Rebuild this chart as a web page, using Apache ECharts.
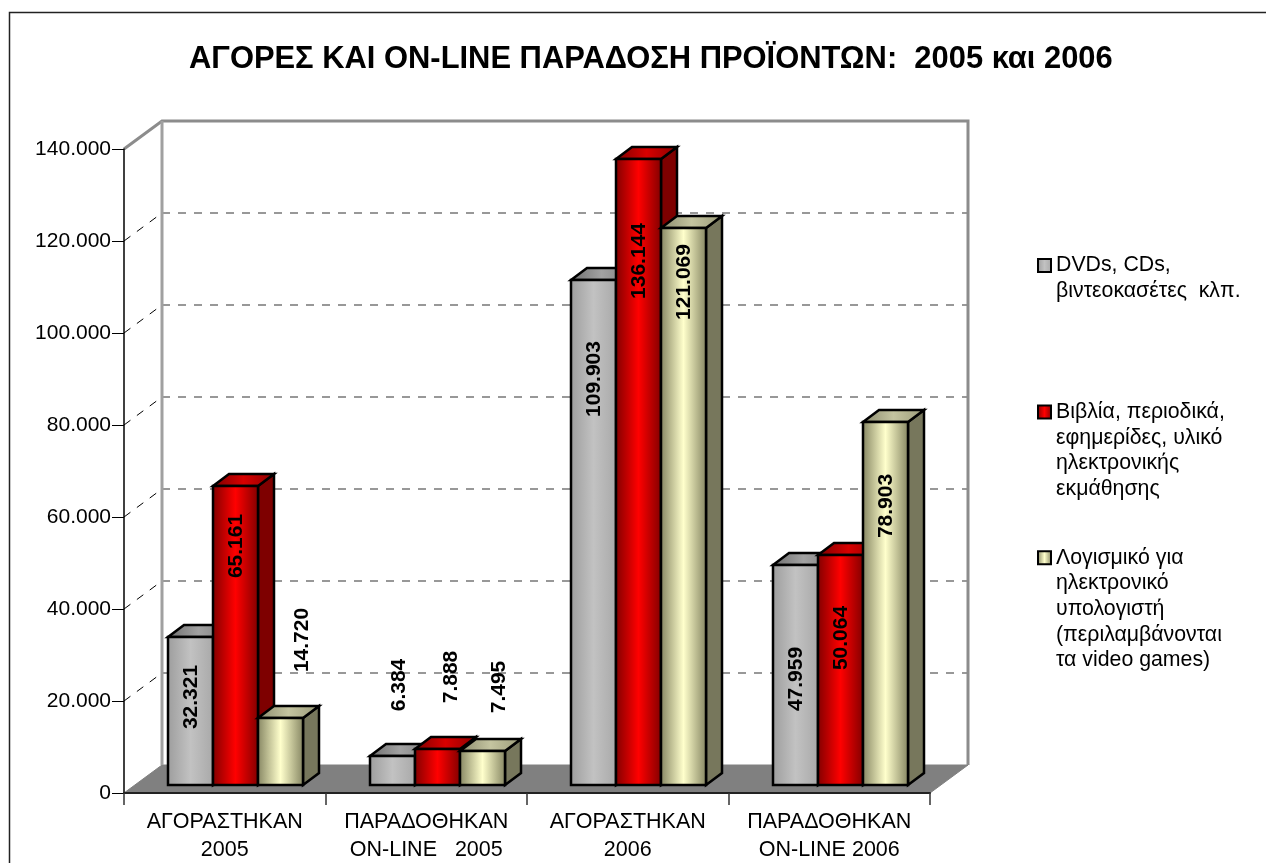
<!DOCTYPE html>
<html>
<head>
<meta charset="utf-8">
<title>chart</title>
<style>
html, body { margin: 0; padding: 0; background: #fff; }
#chart { width: 1266px; height: 863px; }
</style>
<script src="https://cdn.jsdelivr.net/npm/echarts@6/dist/echarts.min.js"></script>
</head>
<body>
<div id="chart"></div>
<script>
// data
var categories = ['ΑΓΟΡΑΣΤΗΚΑΝ\n2005', 'ΠΑΡΑΔΟΘΗΚΑΝ\nON-LINE   2005', 'ΑΓΟΡΑΣΤΗΚΑΝ\n2006', 'ΠΑΡΑΔΟΘΗΚΑΝ\nON-LINE 2006'];
var seriesNames = ['DVDs, CDs,\nβιντεοκασέτες  κλπ.', 'Βιβλία, περιοδικά,\nεφημερίδες, υλικό\nηλεκτρονικής\nεκμάθησης', 'Λογισμικό για\nηλεκτρονικό\nυπολογιστή\n(περιλαμβάνονται\nτα video games)'];
var dvdValues = [32321, 6384, 109903, 47959];
var bookValues = [65161, 7888, 136144, 50064];
var softValues = [14720, 7495, 121069, 78903];
var axisTicks = [0, 20000, 40000, 60000, 80000, 100000, 120000, 140000];

// 3D look
var depthX = 38, depthY = 28;      // side wall / floor
var barDepthX = 16, barDepthY = 12;
var barShiftX = 11, barShiftY = 7.6; // bars stand inside the floor
var barRatio = 45 / 201.25;

// label position relative to the bar top, px (by series, by category)
var labelDx = [[1, 7, 1, 1], [1, 14, 1, 1], [22, 17, 1, 1]];
var labelDy = [[60, -71, 99, 114], [60, -72, 102, 83], [-78, -64, 54, 84]];

var faces = [
    { front: ['#9c9c9c', '#c2c2c2', '#a8a8a8'], top: ['#6e6e6e', '#a2a2a2', '#7e7e7e'], side: '#6a6a6a' },
    { front: ['#7e0000', '#ff0000', '#7e0000'], top: ['#7a0000', '#d80000', '#8a0000'], side: '#7e0000' },
    { front: ['#82825f', '#ffffcc', '#82825f'], top: ['#8a8a6c', '#c4c4a0', '#9a9a78'], side: '#77775c' }
];

function grad(c) {
    return new echarts.graphic.LinearGradient(0, 0, 1, 0, [
        { offset: 0, color: c[0] },
        { offset: 0.5, color: c[1] },
        { offset: 1, color: c[2] }
    ]);
}

function fmt(v) {
    return String(v).replace(/\B(?=(\d{3})+$)/g, '.');
}

function renderWall(params, api) {
    var cs = params.coordSys;
    var y = api.coord([0, api.value(0)])[1];
    var l = cs.x, r = cs.x + cs.width;
    var children = [];
    if (params.dataIndex === 0) {
        // floor
        children.push({
            type: 'polygon',
            shape: { points: [[l, y], [l + depthX, y - depthY], [r + depthX, y - depthY], [r, y]] },
            style: { fill: '#808080', stroke: '#808080', lineWidth: 1 }
        });
    }
    if (api.value(0) === axisTicks[axisTicks.length - 1]) {
        // wall outline
        var b = cs.y + cs.height - depthY;
        children.push({
            type: 'polyline',
            shape: { points: [[l, y], [l + depthX, y - depthY], [r + depthX, y - depthY], [r + depthX, b]] },
            style: { fill: 'none', stroke: '#8c8c8c', lineWidth: 3 }
        });
        children.push({
            type: 'line',
            shape: { x1: l + depthX, y1: y - depthY, x2: l + depthX, y2: b },
            style: { stroke: '#a0a0a0', lineWidth: 3 }
        });
    } else if (params.dataIndex > 0) {
        children.push({
            type: 'line',
            shape: { x1: l, y1: y, x2: l + depthX, y2: y - depthY },
            style: { stroke: '#000', lineWidth: 1, lineDash: [8, 8] }
        });
        children.push({
            type: 'line',
            shape: { x1: l + depthX, y1: y - depthY, x2: r + depthX, y2: y - depthY },
            style: { stroke: '#777', lineWidth: 1.5, lineDash: [8, 8] }
        });
    }
    return { type: 'group', children: children };
}

function barRenderer(si) {
    return function (params, api) {
        var ci = api.value(0), v = api.value(1);
        var w = api.size([1, 0])[0] * barRatio;
        var top = api.coord([ci, v]);
        var base = api.coord([ci, 0]);
        var x0 = Math.round(top[0] + barShiftX + (si - 1.5) * w);
        var x1 = Math.round(x0 + w);
        var yt = Math.round(top[1] - barShiftY);
        var yb = Math.round(base[1] - barShiftY);
        var line = { stroke: '#000', lineWidth: 2.5, lineJoin: 'miter' };
        var f = faces[si];
        var dx = barDepthX, dy = barDepthY;
        return {
            type: 'group',
            children: [
                {
                    type: 'polygon',
                    shape: { points: [[x1, yt], [x1 + dx, yt - dy], [x1 + dx, yb - dy], [x1, yb]] },
                    style: Object.assign({ fill: f.side }, line)
                },
                {
                    type: 'polygon',
                    shape: { points: [[x0, yt], [x0 + dx, yt - dy], [x1 + dx, yt - dy], [x1, yt]] },
                    style: Object.assign({ fill: grad(f.top) }, line)
                },
                {
                    type: 'rect',
                    shape: { x: x0, y: yt, width: x1 - x0, height: yb - yt },
                    style: Object.assign({ fill: grad(f.front) }, line)
                },
                {
                    type: 'text',
                    x: (x0 + x1) / 2 + labelDx[si][ci],
                    y: yt + labelDy[si][ci],
                    rotation: Math.PI / 2,
                    z2: 10,
                    style: {
                        text: fmt(v),
                        fill: '#000',
                        font: 'bold 21px "Liberation Sans"',
                        align: 'center',
                        verticalAlign: 'middle'
                    }
                }
            ]
        };
    };
}

function barSeries(si, values) {
    return {
        name: seriesNames[si],
        type: 'custom',
        z: 5,
        clip: false,
        silent: true,
        itemStyle: { color: faces[si].front[1] },
        renderItem: barRenderer(si),
        data: values.map(function (v, i) { return [i, v]; })
    };
}

// legend text is centred on the icon, leading blank lines put the first line there
function legendItem(si, top) {
    return {
        orient: 'vertical',
        left: 1037,
        top: top,
        itemWidth: 13,
        itemHeight: 13,
        itemGap: 0,
        padding: 0,
        icon: 'rect',
        selectedMode: false,
        data: [{
            name: seriesNames[si],
            itemStyle: { color: grad(faces[si].front), borderColor: '#000', borderWidth: 2 }
        }],
        formatter: function (name) {
            return new Array(name.split('\n').length).join('\n') + name;
        },
        textStyle: { fontFamily: 'Liberation Sans', fontSize: 21.3, lineHeight: 25.7, color: '#000' }
    };
}

var myChart = echarts.init(document.getElementById('chart'), null, { renderer: 'canvas' });

var option = {
    animation: false,
    backgroundColor: '#fff',
    title: {
        text: 'ΑΓΟΡΕΣ ΚΑΙ ON-LINE ΠΑΡΑΔΟΣΗ ΠΡΟΪΟΝΤΩΝ:  2005 και 2006',
        left: 189,
        top: 44,
        padding: 0,
        textStyle: { fontFamily: 'Liberation Sans', fontSize: 30.9, fontWeight: 'bold', color: '#000' }
    },
    legend: [legendItem(0, 227), legendItem(1, 322), legendItem(2, 442)],
    // labels reach the window bottom, keep the grid where it is
    grid: { left: 124, top: 149, width: 806, height: 644, outerBoundsMode: 'none' },
    xAxis: {
        type: 'category',
        data: categories,
        z: 3,
        axisLine: { lineStyle: { color: '#222', width: 2 } },
        axisTick: { show: true, length: 12, lineStyle: { color: '#333', width: 1.5 } },
        axisLabel: { fontFamily: 'Liberation Sans', fontSize: 21.5, color: '#000', lineHeight: 28, margin: 15, interval: 0 }
    },
    yAxis: {
        type: 'value',
        min: 0,
        max: 140000,
        interval: 20000,
        z: 3,
        splitLine: { show: false },
        axisLine: { show: true, lineStyle: { color: '#000', width: 1.5 } },
        axisTick: { show: true, length: 12, lineStyle: { color: '#000', width: 1 } },
        axisLabel: { fontFamily: 'Liberation Sans', fontSize: 21, color: '#000', margin: 13, formatter: fmt }
    },
    graphic: [{
        type: 'polyline',
        silent: true,
        shape: { points: [[9.5, 900], [9.5, 12.5], [1300, 12.5]] },
        style: { fill: 'none', stroke: '#222', lineWidth: 1.5 }
    }],
    series: [
        {
            type: 'custom',
            z: 1,
            clip: false,
            silent: true,
            renderItem: renderWall,
            encode: { y: 0 },
            data: axisTicks
        },
        barSeries(0, dvdValues),
        barSeries(1, bookValues),
        barSeries(2, softValues)
    ]
};

myChart.setOption(option);
window.addEventListener('resize', function () {
    myChart.resize();
});
</script>
</body>
</html>
